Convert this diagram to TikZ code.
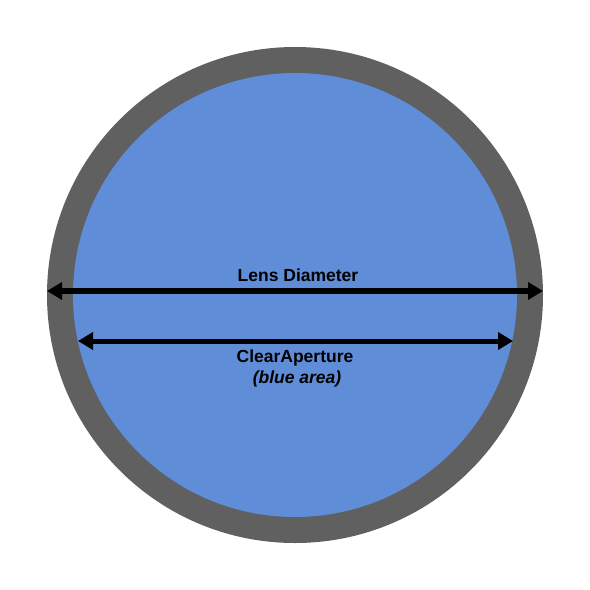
\documentclass[tikz,border=0pt]{standalone}
\usepackage{fontspec}
\setmainfont{Liberation Sans}
\usetikzlibrary{arrows.meta}
\definecolor{rimgray}{RGB}{96,96,96}
\definecolor{lensblue}{RGB}{95,141,216}
\tikzset{
  dimarrow/.style={draw=black, line width=#1, {Triangle[length=15pt,width=17pt]}-{Triangle[length=15pt,width=17pt]}, shorten <=0pt, shorten >=0pt},
  lbl/.style={font=\fontsize{17.5}{20}\selectfont\bfseries, text=black, inner sep=0pt}
}
\begin{document}
\begin{tikzpicture}[x=1pt,y=-1pt]
\useasboundingbox[fill=white] (0,0) rectangle (590,590);
\node[circle, fill=rimgray, minimum size=496pt, inner sep=0pt] (rim) at (295,295) {};
\node[circle, fill=lensblue, minimum size=444pt, inner sep=0pt] (clear) at (295,295) {};
\coordinate (d1) at (47,291);
\coordinate (d2) at (543,291);
\coordinate (a1) at (78,341);
\coordinate (a2) at (513,341);
\draw[dimarrow=6pt] (d1) -- (d2);
\draw[dimarrow=5pt] (a1) -- (a2);
\node[lbl] (lenslbl) at (298,275) {Lens Diameter};
\node[lbl] (calbl) at (295,358) {ClearAperture};
\node[lbl, font=\fontsize{17.5}{20}\selectfont\bfseries\itshape] (bluelbl) at (297,379) {(blue area)};
\end{tikzpicture}
\end{document}
